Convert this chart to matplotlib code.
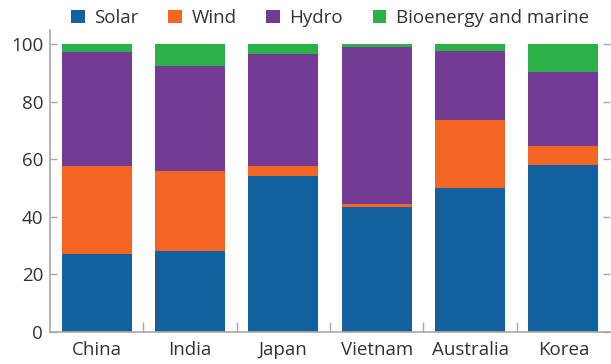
import numpy as np
import matplotlib
matplotlib.use("Agg")
import matplotlib.pyplot as plt
from matplotlib.ticker import FixedLocator

plt.rcParams['font.family'] = ['Open Sans', 'DejaVu Sans']

# Share of renewable generation by source (%)
countries = ["China", "India", "Japan", "Vietnam", "Australia", "Korea"]
solar = [27.0, 28.0, 54.2, 43.3, 50.1, 57.9]
wind = [30.6, 27.8, 3.4, 1.2, 23.5, 6.6]
hydro = [39.6, 36.5, 38.9, 54.4, 24.0, 25.9]
bio_marine = [2.8, 7.7, 3.5, 1.1, 2.4, 9.6]

series = [("Solar", solar, "#1461a0"),
          ("Wind", wind, "#f26522"),
          ("Hydro", hydro, "#743b95"),
          ("Bioenergy and marine", bio_marine, "#2bb04a")]

fig = plt.figure(figsize=(6.11, 3.64), dpi=100)
ax = fig.add_axes([50 / 611, 1 - 331.7 / 364, 560 / 611, 302 / 364])

x = np.arange(len(countries))
bottom = np.zeros(len(countries))
for name, vals, col in series:
    ax.bar(x, vals, width=0.75, bottom=bottom, color=col, label=name, linewidth=0)
    bottom += np.array(vals)

ax.set_xlim(-0.5, len(countries) - 0.5)
ax.set_ylim(0, 105)
ax.set_yticks(range(0, 101, 20))
ax.set_xticks(x)
ax.set_xticklabels(countries)
ax.xaxis.set_minor_locator(FixedLocator(np.arange(0.5, len(countries) - 1, 1)))

grey = "#a8a8a8"
for s in ["top", "right"]:
    ax.spines[s].set_visible(False)
for s in ["left", "bottom"]:
    ax.spines[s].set_color(grey)
    ax.spines[s].set_linewidth(1.2)

ax.tick_params(axis="x", which="major", length=0, pad=7, labelsize=13.5, labelcolor="#333333")
ax.tick_params(axis="x", which="minor", direction="in", length=7, width=1, color=grey)
ax.tick_params(axis="y", direction="in", length=5, width=1, color=grey, pad=5,
               labelsize=13.5, labelcolor="#333333", right=True)

fig.legend(loc="center", bbox_to_anchor=(0.54, 1 - 18 / 364), ncol=4, frameon=False,
           handlelength=0.72, handleheight=0.72, handletextpad=0.5, columnspacing=1.6,
           fontsize=13.5, labelcolor="#333333")

fig.savefig("out.png", dpi=100)
